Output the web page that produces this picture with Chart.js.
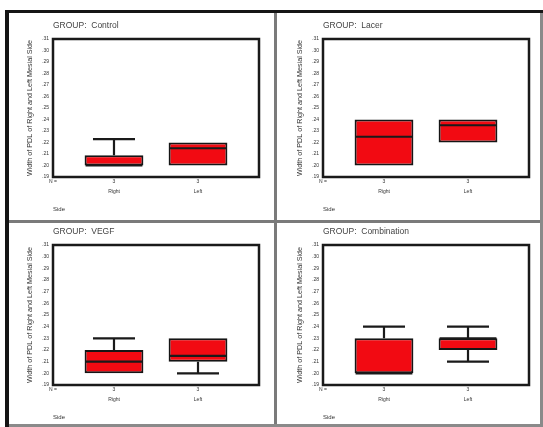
<!DOCTYPE html>
<html>
<head>
<meta charset="utf-8">
<script src="https://cdn.jsdelivr.net/npm/chart.js@4/dist/chart.umd.min.js"></script>
<style>
  html, body { margin: 0; padding: 0; background: #fff; }
  body { width: 543px; height: 427px; position: relative; overflow: hidden; }
  canvas { position: absolute; }
  .rule { position: absolute; z-index: 2; }
</style>
</head>
<body>
<canvas id="panel0" width="265" height="207" style="left:10px;top:13px"></canvas>
<canvas id="panel1" width="265" height="207" style="left:280px;top:13px"></canvas>
<canvas id="panel2" width="265" height="209" style="left:10px;top:219px"></canvas>
<canvas id="panel3" width="265" height="209" style="left:280px;top:219px"></canvas>

<!-- page frame and panel dividers -->
<div class="rule" style="left:5px;top:10px;width:538px;height:3px;background:#151515"></div>
<div class="rule" style="left:5px;top:10px;width:4px;height:417px;background:#151515"></div>
<div class="rule" style="left:274px;top:13px;width:3px;height:414px;background:#7a7a7a"></div>
<div class="rule" style="left:9px;top:220px;width:534px;height:3px;background:#7a7a7a"></div>
<div class="rule" style="left:540px;top:13px;width:3px;height:414px;background:#8a8a8a"></div>
<div class="rule" style="left:9px;top:424px;width:534px;height:3px;background:#8a8a8a"></div>

<script>
// Groups (one panel each) and the two sides compared inside every panel
const groups = ['Control', 'Lacer', 'VEGF', 'Combination'];
const sides = ['Right', 'Left'];
const counts = [[3, 3], [3, 3], [3, 3], [3, 3]];

// Box-plot summaries per group, [Right, Left]
const whiskerLow  = [[0.200, 0.200], [0.200, 0.220], [0.200, 0.200], [0.200, 0.210]];
const boxLow      = [[0.200, 0.200], [0.200, 0.220], [0.200, 0.210], [0.200, 0.220]];
const medianVal   = [[0.200, 0.215], [0.225, 0.235], [0.210, 0.215], [0.200, 0.230]];
const boxHigh     = [[0.209, 0.220], [0.240, 0.240], [0.220, 0.230], [0.230, 0.230]];
const whiskerHigh = [[0.223, 0.220], [0.240, 0.240], [0.230, 0.230], [0.240, 0.240]];

// Value-axis tick labels
const yTickLabels = ['.19', '.20', '.21', '.22', '.23', '.24', '.25', '.26', '.27', '.28', '.29', '.30', '.31'];

const yTitle = 'Width of PDL of Right and Left Mesial Side';
const xTitle = 'Side';

Chart.defaults.font.family = '"Liberation Sans", Arial, sans-serif';
Chart.defaults.color = '#333';

// Whiskers, caps and median lines, placed through the chart's scales
const boxWhiskers = {
  id: 'boxWhiskers',
  afterDatasetsDraw(chart, args, opts) {
    const g = opts.group;
    const { ctx } = chart;
    const xs = chart.scales.x, ys = chart.scales.y;
    const bars = chart.getDatasetMeta(0).data;
    ctx.save();
    ctx.strokeStyle = opts.color;
    ctx.lineCap = 'butt';
    sides.forEach((side, i) => {
      const cx = xs.getPixelForValue(i + 1);
      const capL = xs.getPixelForValue(i + 1 - opts.capHalfWidth);
      const capR = xs.getPixelForValue(i + 1 + opts.capHalfWidth);
      ctx.lineWidth = opts.lineWidth;
      const whisker = (from, to) => {
        if (from === to) return;
        const y0 = ys.getPixelForValue(from), y1 = ys.getPixelForValue(to);
        ctx.beginPath();
        ctx.moveTo(cx, y0); ctx.lineTo(cx, y1);
        ctx.moveTo(capL, y1); ctx.lineTo(capR, y1);
        ctx.stroke();
      };
      whisker(boxHigh[g][i], whiskerHigh[g][i]);
      whisker(boxLow[g][i], whiskerLow[g][i]);
      const { x, width } = bars[i].getProps(['x', 'width'], true);
      const ym = ys.getPixelForValue(medianVal[g][i]);
      ctx.lineWidth = opts.medianWidth;
      ctx.beginPath();
      ctx.moveTo(x - width / 2 + 1, ym); ctx.lineTo(x + width / 2 - 1, ym);
      ctx.stroke();
    });
    ctx.restore();
  }
};

// Plot frame, panel heading and the "N =" row label
const panelDecor = {
  id: 'panelDecor',
  afterDraw(chart, args, opts) {
    const { ctx, chartArea: a } = chart;
    ctx.save();
    ctx.strokeStyle = '#1a1a1a';
    ctx.lineWidth = 2.5;
    ctx.strokeRect(a.left, a.top, a.right - a.left, a.bottom - a.top);
    ctx.fillStyle = '#444';
    ctx.font = '8.5px "Liberation Sans", Arial, sans-serif';
    ctx.textBaseline = 'middle';
    ctx.textAlign = 'left';
    ctx.fillText('GROUP:  ' + groups[opts.group], a.left, a.top - 13.5);
    ctx.fillStyle = '#333';
    ctx.font = '5px "Liberation Sans", Arial, sans-serif';
    ctx.textAlign = 'center';
    ctx.fillText('N =', a.left, chart.scales.x.top + 5);
    ctx.restore();
  }
};

function buildPanel(g) {
  const canvas = document.getElementById('panel' + g);
  return new Chart(canvas, {
    type: 'bar',
    data: {
      datasets: [{
        data: sides.map((s, i) => ({ x: i + 1, y: [boxLow[g][i], boxHigh[g][i]] })),
        backgroundColor: '#f20a12',
        borderColor: '#151515',
        borderWidth: 2,
        borderSkipped: false,
        categoryPercentage: 1,
        barPercentage: 0.7
      }]
    },
    plugins: [boxWhiskers, panelDecor],
    options: {
      responsive: false,
      animation: false,
      events: [],
      layout: { padding: { top: 26, right: 16, bottom: 0, left: 0 } },
      plugins: {
        legend: { display: false },
        tooltip: { enabled: false },
        boxWhiskers: { group: g, color: '#1a1a1a', lineWidth: 2.2, medianWidth: 2.2, capHalfWidth: 0.25 },
        panelDecor: { group: g }
      },
      scales: {
        x: {
          type: 'linear',
          offset: false,
          min: 1 - 0.726,
          max: sides.length + 0.726,
          grid: { display: false, drawTicks: false },
          border: { display: false },
          afterBuildTicks: (scale) => { scale.ticks = sides.map((s, i) => ({ value: i + 1 })); },
          afterFit: (scale) => { scale.height = 43; },
          ticks: {
            autoSkip: false,
            maxRotation: 0,
            padding: 0,
            font: { size: 5, lineHeight: 2 },
            color: '#333',
            callback: (v, idx) => [String(counts[g][idx]), sides[idx]]
          },
          title: {
            display: true,
            text: xTitle,
            align: 'start',
            color: '#333',
            font: { size: 6 },
            padding: { top: 0, bottom: 7.5 }
          }
        },
        y: {
          type: 'linear',
          min: Number(yTickLabels[0]),
          max: Number(yTickLabels[yTickLabels.length - 1]),
          grid: { display: false, drawTicks: false },
          border: { display: false },
          afterBuildTicks: (scale) => { scale.ticks = yTickLabels.map(t => ({ value: Number(t) })); },
          afterFit: (scale) => { scale.width = 43; },
          ticks: {
            autoSkip: false,
            padding: 4,
            font: { size: 5 },
            color: '#333',
            callback: (v, idx) => yTickLabels[idx]
          },
          title: {
            display: true,
            text: yTitle,
            color: '#333',
            font: { size: 7.2 },
            padding: { top: 16, bottom: 0 }
          }
        }
      }
    }
  });
}

groups.forEach((name, g) => buildPanel(g));
</script>
</body>
</html>
